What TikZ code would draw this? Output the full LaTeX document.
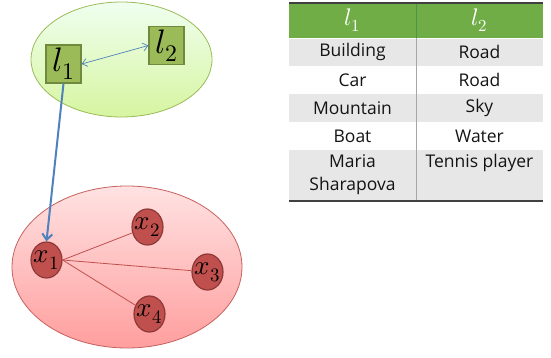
\documentclass[tikz,border=0pt]{standalone}
\usepackage{fontspec}
\usepackage{unicode-math}
\setmainfont{Open Sans}
\setmathfont{Latin Modern Math}
\usetikzlibrary{shapes.geometric,arrows.meta}
\definecolor{grnfill}{HTML}{9BBB59}
\definecolor{grnline}{HTML}{71893F}
\definecolor{redfill}{HTML}{C0504D}
\definecolor{redline}{HTML}{8C3836}
\definecolor{linkblue}{HTML}{4F81BD}
\definecolor{hdrgreen}{HTML}{70AD47}
\definecolor{rowgray}{HTML}{E7E7E7}
\definecolor{rulegray}{HTML}{A6A6A6}
% fixed-size node content, so the shape keeps its minimum size
\newcommand{\fixedlabel}[1]{\makebox[0pt]{$#1$}}
\tikzset{
  lbox/.style={draw=grnline, fill=grnfill, line width=1.2pt, minimum width=35pt, minimum height=38pt, inner sep=0pt, font=\fontsize{34}{36}\selectfont},
  xnode/.style={ellipse, draw=redline, fill=redfill, line width=1.2pt, minimum width=31pt, minimum height=36pt, inner sep=0pt, font=\fontsize{27}{30}\selectfont},
  cell/.style={font=\fontsize{17.5}{23}\selectfont, text=black!92, inner sep=0pt, align=center},
  hcell/.style={font=\fontsize{24}{26}\selectfont, text=white, inner sep=0pt},
}
\begin{document}
\begin{tikzpicture}[x=1pt,y=-1pt]
\useasboundingbox (0,0) rectangle (551,358);
% label group
\shade[top color=green!6!white, bottom color={rgb,255:red,214;green,245;blue,160}, draw=grnfill, line width=0.8pt]
  (121.5,59.5) ellipse [x radius=90.5, y radius=57.5];
% object group
\shade[top color={rgb,255:red,255;green,226;blue,226}, bottom color={rgb,255:red,255;green,158;blue,158}, draw=redfill!90, line width=0.8pt]
  (127,267) ellipse [x radius=115, y radius=81];
\node[lbox] (l1) at (63.5,64) {\fixedlabel{l_1}};
\node[lbox] (l2) at (166.5,45.5) {\fixedlabel{l_2}};
\node[xnode] (x1) at (46.5,260) {\fixedlabel{x_1}};
\node[xnode] (x2) at (147.5,227) {\fixedlabel{x_2}};
\node[xnode] (x3) at (207.5,272) {\fixedlabel{x_3}};
\node[xnode] (x4) at (149.5,314) {\fixedlabel{x_4}};
\draw[linkblue, line width=0.7pt, {Straight Barb[length=5pt,width=8pt]}-{Straight Barb[length=5pt,width=8pt]}] (l1.east) -- (l2.west);
\draw[linkblue, line width=2pt, -{Straight Barb[length=6pt,width=10pt]}] (l1.south) -- (x1.north);
\foreach \t in {x2,x3,x4} \draw[redfill, line width=0.8pt] (x1.east) -- (\t);
% table
\fill[hdrgreen] (289,3) rectangle (543,38);
\fill[rowgray] (289,38) rectangle (543,66);
\fill[rowgray] (289,94) rectangle (543,122);
\fill[rowgray] (289,150) rectangle (543,201);
\draw[white, line width=0.8pt] (289,38) -- (543,38);
\draw[green!40!black!70, line width=0.8pt] (416,3) -- (416,38);
\draw[rulegray, line width=0.8pt] (416,38) -- (416,201);
\draw[black!75, line width=1.6pt] (289,3) -- (543,3);
\draw[black!75, line width=1.6pt] (289,201) -- (543,201);
\node[hcell] (h1) at (352.5,20.5) {$l_1$};
\node[hcell] (h2) at (479.5,20.5) {$l_2$};
\node[cell] (a1) at (352.5,52) {Building};
\node[cell] (b1) at (479.5,52) {Road};
\node[cell] (a2) at (352.5,80) {Car};
\node[cell] (b2) at (479.5,80) {Road};
\node[cell] (a3) at (352.5,108) {Mountain};
\node[cell] (b3) at (479.5,108) {Sky};
\node[cell] (a4) at (352.5,136) {Boat};
\node[cell] (b4) at (479.5,136) {Water};
\node[cell, anchor=north] (a5) at (352.5,154) {Maria\\Sharapova};
\node[cell, anchor=north] (b5) at (479.5,154) {Tennis player};
\end{tikzpicture}
\end{document}
